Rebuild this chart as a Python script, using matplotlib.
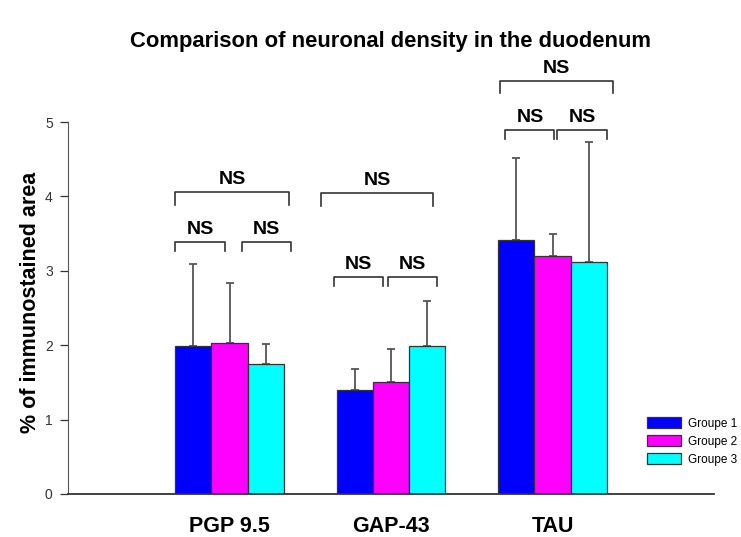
import matplotlib
matplotlib.use("Agg")
import matplotlib.pyplot as plt
import numpy as np

plt.rcParams["font.family"] = ["Liberation Sans", "DejaVu Sans"]

# data
categories = ["PGP 9.5", "GAP-43", "TAU"]
groups = ["Groupe 1", "Groupe 2", "Groupe 3"]
colors = ["#0000ff", "#ff00ff", "#00ffff"]
means = {
    "Groupe 1": [1.99, 1.40, 3.41],
    "Groupe 2": [2.03, 1.50, 3.20],
    "Groupe 3": [1.75, 1.99, 3.12],
}
errors = {
    "Groupe 1": [1.10, 0.28, 1.11],
    "Groupe 2": [0.80, 0.45, 0.30],
    "Groupe 3": [0.27, 0.60, 1.61],
}
# significance brackets: (x start, x end, bar height, tick drop, label)
brackets = [
    (0.665, 0.969, 3.39, 0.12, "NS"),
    (1.075, 1.379, 3.39, 0.12, "NS"),
    (0.665, 1.366, 4.06, 0.18, "NS"),
    (1.646, 1.950, 2.92, 0.12, "NS"),
    (1.980, 2.286, 2.92, 0.12, "NS"),
    (1.565, 2.260, 4.05, 0.18, "NS"),
    (2.708, 3.012, 4.89, 0.12, "NS"),
    (3.030, 3.335, 4.89, 0.12, "NS"),
    (2.677, 3.373, 5.55, 0.16, "NS"),
]

fig = plt.figure(figsize=(7.41, 5.37), dpi=100)
ax = fig.add_axes([0.0918, 0.0801, 0.8718, 0.6927])

x = np.arange(1, len(categories) + 1)
width = 0.2236
for i, g in enumerate(groups):
    pos = x + (i - 1) * width
    ax.bar(pos, means[g], width, color=colors[i], edgecolor="#333333",
           linewidth=0.9, label=g, zorder=2)
    ax.errorbar(pos, means[g], yerr=[np.zeros(len(x)), errors[g]], fmt="none",
                ecolor="#555555", elinewidth=1.3, capsize=3, capthick=1.3, zorder=1)

for x1, x2, y, drop, lab in brackets:
    ax.plot([x1, x1, x2, x2], [y - drop, y, y, y - drop], color="#333333",
            lw=1.2, clip_on=False)
    ax.text((x1 + x2) / 2, y + 0.05, lab, ha="center", va="bottom",
            fontsize=14, fontweight="bold", clip_on=False)

ax.set_xlim(0, 4)
ax.set_ylim(0, 5)
ax.set_xticks(x)
ax.set_xticklabels(categories, fontsize=15.5, fontweight="bold")
ax.tick_params(axis="x", length=0, pad=16)
ax.set_yticks(range(0, 6))
ax.tick_params(axis="y", length=6, width=0.9, colors="#333333", labelsize=10, pad=5)
for sp in ["top", "right"]:
    ax.spines[sp].set_visible(False)
ax.spines["left"].set_color("#555555")
ax.spines["bottom"].set_color("#333333")
ax.spines["bottom"].set_linewidth(1.3)

ax.set_ylabel("% of immunostained area", fontsize=15.5, fontweight="bold", labelpad=3)
ax.yaxis.label.set_y(0.516)
fig.text(0.527, 0.922, "Comparison of neuronal density in the duodenum",
         ha="center", va="center", fontsize=15.8, fontweight="bold")

ax.legend(loc="lower left", bbox_to_anchor=(0.8865, 0.06), frameon=False,
          fontsize=8.5, handlelength=2.9, handleheight=1.1, labelspacing=0.45,
          handletextpad=0.6, borderpad=0)

fig.savefig("out.png", dpi=100)
